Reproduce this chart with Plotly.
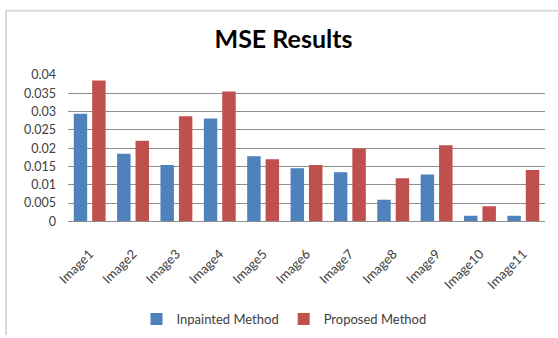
import plotly.graph_objects as go

# Mean squared error per test image for the two inpainting approaches
images = ["Image1", "Image2", "Image3", "Image4", "Image5", "Image6",
          "Image7", "Image8", "Image9", "Image10", "Image11"]
inpainted_mse = [0.0294, 0.0185, 0.0154, 0.0281, 0.0178, 0.0145,
                 0.0134, 0.0059, 0.0128, 0.0015, 0.0015]
proposed_mse = [0.0385, 0.0220, 0.0287, 0.0355, 0.0170, 0.0154,
                0.0199, 0.0118, 0.0208, 0.0041, 0.0140]
y_ticks = [0, 0.005, 0.01, 0.015, 0.02, 0.025, 0.03, 0.035, 0.04]
y_tick_text = ["0", "0.005", "0.01", "0.015", "0.02", "0.025", "0.03", "0.035", "0.04"]

W, H = 558, 338
ML, MR, MT, MB = 68, 13, 75, 115
plot_w = W - ML - MR
plot_h = H - MT - MB

FONT = "Lato"
TEXT = "#404040"

fig = go.Figure()
fig.add_trace(go.Bar(x=images, y=inpainted_mse, name="Inpainted Method",
                     marker=dict(color="#4F81BD", line=dict(width=0))))
fig.add_trace(go.Bar(x=images, y=proposed_mse, name="Proposed Method",
                     marker=dict(color="#C0504D", line=dict(width=0))))


def px_x(p):
    return (p - ML) / plot_w


def px_y(p):
    return (H - MB - p) / plot_h


# light outer chart frame: only the top and left edges fall inside the page
frame = dict(color="#d9d9d9", width=2)
fig.add_shape(type="line", xref="paper", yref="paper",
              x0=px_x(6), x1=px_x(W), y0=px_y(10), y1=px_y(10), line=frame, layer="below")
fig.add_shape(type="line", xref="paper", yref="paper",
              x0=px_x(6), x1=px_x(6), y0=px_y(10), y1=px_y(H), line=frame, layer="below")

fig.update_layout(
    width=W, height=H,
    margin=dict(l=ML, r=MR, t=MT, b=MB, pad=0),
    paper_bgcolor="white", plot_bgcolor="white",
    barmode="group", bargap=0.15, bargroupgap=0.27,
    font=dict(family=FONT, size=12.5, color=TEXT),
    title=dict(text="<b>MSE Results</b>", font=dict(family=FONT, size=25, color="#000000"),
               xref="container", yref="container", x=283.5 / W, y=1 - 39 / H,
               xanchor="center", yanchor="middle"),
    showlegend=True,
    legend=dict(orientation="h", xref="container", yref="container",
                x=284 / W, y=1 - 319 / H, xanchor="center", yanchor="middle",
                font=dict(family=FONT, size=13, color=TEXT),
                itemwidth=30, tracegroupgap=0, bgcolor="rgba(0,0,0,0)"),
    xaxis=dict(showgrid=False, showline=True, linecolor="#8c8c8c", linewidth=1,
               ticks="", tickangle=-45, ticklabelstandoff=19,
               tickfont=dict(family=FONT, size=13, color=TEXT)),
    yaxis=dict(range=[0, 0.04], tickvals=y_ticks, ticktext=y_tick_text,
               showgrid=True, gridcolor="#8f8f8f", gridwidth=1,
               zeroline=True, zerolinecolor="#8c8c8c", zerolinewidth=1,
               showline=False, ticks="", ticklabelstandoff=11,
               tickfont=dict(family=FONT, size=12.5, color=TEXT)),
)

fig.write_html("out.html", config={"displayModeBar": False})
